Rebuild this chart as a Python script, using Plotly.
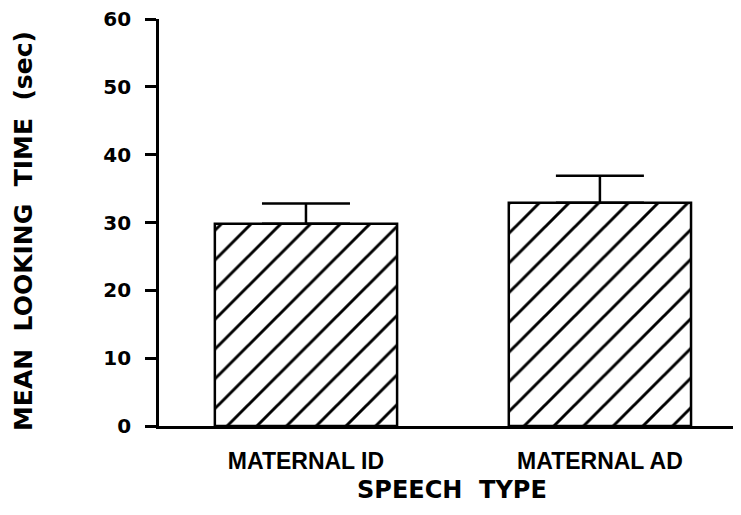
import plotly.graph_objects as go

categories = ["MATERNAL ID", "MATERNAL AD"]
mean_looking = [29.8, 32.9]
sem_upper = [3.0, 4.0]
y_ticks = [0, 10, 20, 30, 40, 50, 60]

fig = go.Figure()
fig.add_trace(go.Bar(
    x=[0, 1],
    y=mean_looking,
    width=0.62,
    marker=dict(
        color="white",
        line=dict(color="black", width=2.5),
        pattern=dict(shape="/", fgcolor="black", fgopacity=1, bgcolor="white",
                     size=21, solidity=0.14),
    ),
    error_y=dict(type="data", symmetric=False, array=sem_upper,
                 arrayminus=[0, 0], color="black", thickness=2.5, width=44),
))

fig.update_layout(
    width=741, height=515,
    margin=dict(l=151, r=8, t=11, b=97, autoexpand=False),
    paper_bgcolor="white", plot_bgcolor="white",
    showlegend=False,
    font=dict(family="DejaVu Sans", color="black"),
    xaxis=dict(
        range=[-0.5, 1.48], automargin=False,
        tickmode="array", tickvals=[0, 1], ticktext=categories,
        showline=True, linecolor="black", linewidth=2.8,
        ticks="", showgrid=False, zeroline=False,
        tickfont=dict(size=23, family="Liberation Sans", color="black", weight="bold"),
        ticklabelstandoff=12,
    ),
    yaxis=dict(
        range=[0, 60], automargin=False,
        tickmode="array", tickvals=y_ticks,
        ticktext=[f"<b>{v}</b>" for v in y_ticks],
        showline=True, linecolor="black", linewidth=2.8,
        ticks="outside", ticklen=11, tickwidth=2.8, tickcolor="black",
        showgrid=False, zeroline=False,
        tickfont=dict(size=20, family="DejaVu Sans", color="black"),
        ticklabelstandoff=10,
        ticklabeloverflow="allow",
    ),
    annotations=[
        dict(text="<b>MEAN  LOOKING  TIME  (sec)</b>", textangle=-90,
             xref="paper", yref="paper", x=-0.2337, y=0.479,
             xanchor="center", yanchor="middle", showarrow=False,
             font=dict(size=25, family="DejaVu Sans", color="black")),
        dict(text="<b>SPEECH  TYPE</b>",
             xref="paper", yref="paper", x=0.503, y=-0.157,
             xanchor="center", yanchor="middle", showarrow=False,
             font=dict(size=24, family="DejaVu Sans", color="black")),
    ],
)

fig.write_html("out.html")
